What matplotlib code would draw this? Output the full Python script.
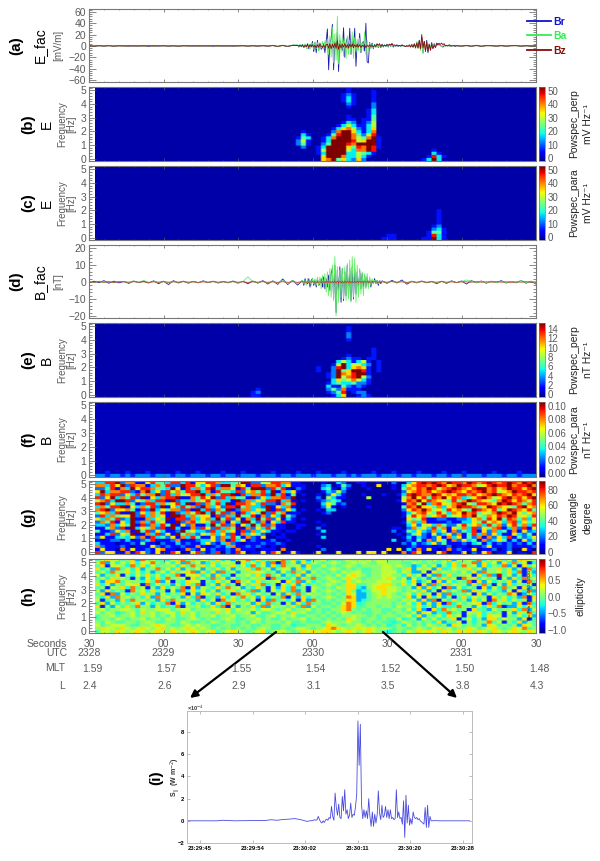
import numpy as np
import matplotlib
matplotlib.use("Agg")
import matplotlib.pyplot as plt
from matplotlib.ticker import MultipleLocator, FuncFormatter

plt.rcParams['font.family'] = ['Liberation Sans', 'DejaVu Sans']

W, H = 600, 861
GRAY = '#5a5a5a'

# ---------- time grids (seconds after 23:28:30) ----------
t_e = np.concatenate([np.arange(0, 84, 2.0), np.arange(84, 148, 0.5), np.arange(148, 181, 2.0)])
t_b = np.concatenate([np.arange(0, 86, 2.0), np.arange(86, 118, 0.5), np.arange(118, 181, 2.0)])

# ---------- panel (a) ----------
e_pre_r = [0.3,-0.4,0.5,-0.3,0.6,-0.5,0.4,0.2,-0.4,0.3,-0.3,0.5,-0.6,0.4,-0.2,0.3,-0.4,0.2,-0.5,0.4,0.3,
           -0.3,0.4,-0.2,0.3,-0.5,0.4,-0.3,0.2,-0.4,0.3,0.5,-0.3,0.4,-0.4,0.6,-0.5,0.8,-0.9,1.0,-1.2,1.4]
e_burst_r = [1,-2,2,-1,3,-3,2,-2,4,-5,3,-2,
             8,-10,6,-12,10,-8,5,-6,-3,4,-12,8,
             30,-42,6,12,38,-42,8,-6,25,-45,10,4,
             -8,32,-20,5,14,-10,31,-15,8,-4,31,-36,
             6,-5,22,-12,5,8,-9,40,-28,-30,6,-4,
             5,-5,3,-2,4,-3,2,-3,3,-2,2,-1,
             3,-2,3,-1,4,-2,1,0,2,-1,1,-1,
             2,1,0,-1,1,0,2,-1,3,-2,4,-3,
             6,-3,10,-7,15,-12,8,-8,10,-12,3,-5,
             6,-4,4,-2,5,3,4,1,-1,-2,0,1,
             1,0,1,-1,0,1,0,-1]
e_post_r = [0.5,-0.4,1.0,-0.8,1.2,-1.0,0.8,0.6,-0.5,0.7,-0.6,0.5,0.9,-0.7,0.4,-0.3,0.3]
e_pre_a = [0.2,-0.3,0.3,-0.2,0.4,-0.3,0.2,-0.2,0.3,-0.3,0.2,-0.2,0.4,-0.3,0.2,0.3,-0.2,0.2,-0.3,0.2,-0.2,
           0.3,-0.3,0.2,-0.2,0.3,-0.3,0.2,-0.2,0.3,-0.2,0.3,-0.3,0.4,-0.3,0.5,-0.4,1.0,-1.5,1.4,-1.0,1.5]
e_burst_a = [2,-1,3,-2,2,-3,4,-4,-5,3,-6,4,
             5,-6,7,-5,6,-9,4,-4,8,-6,9,-4,
             12,-15,18,-20,33,-30,22,-25,52,-32,20,-12,
             15,-18,12,-22,18,-15,10,-14,25,-22,15,-10,
             12,-8,14,-10,6,-8,25,-15,10,-8,5,-4,
             3,-4,2,-3,2,-2,1,-2,2,-1,2,-1,
             1,-1,2,-1,1,0,1,-1,1,0,1,-1,
             1,0,1,-1,0,1,1,-1,2,-3,3,-5,
             8,-4,6,-8,12,-14,6,-6,5,-7,4,-3,
             3,-2,2,-1,2,1,2,0,-1,0,1,0,
             0,1,0,-1,0,1,0,0]
e_post_a = [0.3,-0.3,0.5,-0.4,0.6,-0.5,0.4,0.3,-0.3,0.4,-0.3,0.3,0.4,-0.3,0.2,-0.2,0.2]
e_pre_z = [0.1,-0.2,0.2,-0.1,0.2,-0.2,0.1,-0.1,0.2,-0.2,0.1,-0.1,0.2,-0.1,0.1,0.2,-0.1,0.1,-0.2,0.1,-0.1,
           0.2,-0.2,0.1,-0.1,0.2,-0.1,0.1,-0.1,0.2,-0.1,0.2,-0.2,0.2,-0.2,0.3,-0.2,0.5,-0.6,0.6,-0.5,0.7]
e_burst_z = [1,0,1,-1,1,-2,1,-1,2,-2,1,-1,
             2,-2,1,-3,2,-2,3,-1,-2,1,-3,2,
             3,-4,4,-5,3,-3,5,-4,9,-6,3,-4,
             3,-2,4,-3,2,-4,3,-2,3,-3,2,-2,
             3,-2,2,-3,1,-1,2,-3,1,-1,2,-1,
             1,-2,1,-1,3,1,4,-1,2,0,1,0,
             2,1,3,2,4,1,2,0,1,0,1,0,
             1,0,0,-1,0,-1,1,-2,1,-2,3,-3,
             5,-4,9,-5,20,-3,8,-10,6,-9,3,-8,
             3,-5,1,-3,3,2,4,3,5,2,4,0,
             1,0,2,1,0,0,1,0]
e_post_z = [0.3,-0.2,0.4,-0.3,0.5,-0.3,0.3,0.2,-0.2,0.3,-0.2,0.2,0.3,-0.2,0.2,-0.1,0.1]

# ---------- panel (d) ----------
b_pre_r = [-0.6,0.5,-0.4,0.8,-0.7,0.5,-0.5,0.3,-0.8,0.6,-0.4,0.5,-0.6,0.7,-1.0,0.5,-1.5,0.8,-0.6,0.5,-0.7,0.4,
           -0.5,0.7,-0.4,0.5,-0.6,0.3,-0.5,0.6,-0.7,0.4,-1.0,0.6,-0.7,0.8,-1.2,0.7,-1.4,1.8,-1.5,1.0,-1.8]
b_burst_r = [1,-2,2,-1,-1,2,-3,1,2,-2,1,-3,
             2,-2,-1,2,-3,3,-4,2,-3,4,-5,5,
             8,-10,10,-18,7,-6,9,-12,8,-11,6,-8,
             10,-9,8,-11,9,-10,8,-7,6,-5,7,-4,
             5,-4,4,-3,3,-2,2,-3,1,-1,2,-1,1,-2,1,-1]
b_post_r = [0.7,-0.8,1.0,-0.6,1.2,-1.3,0.5,-0.5,0.6,-0.5,0.4,-1.0,0.5,-0.8,0.7,-0.4,0.6,-1.2,0.8,-0.5,0.6,-0.7,
            0.5,-0.4,0.8,-0.6,0.4,-0.5,0.9,-0.7,0.5,-1.2]
b_pre_a = [0.3,-0.4,0.3,-0.3,0.4,-0.3,0.3,0.2,-0.3,0.3,-0.2,1.0,-0.4,0.3,-0.3,0.3,-0.5,0.3,-0.2,0.3,-0.3,0.2,
           -0.3,0.3,-0.2,0.3,-0.3,0.2,-0.3,0.3,-0.8,0.4,3.0,0.3,-0.4,0.4,-0.6,0.5,-0.7,1.0,-1.0,0.8,-1.0]
b_burst_a = [1,-1,1,-2,2,-1,1,-2,2,-1,2,-2,
             3,-2,3,-4,4,-3,5,-6,6,-8,8,-9,
             10,-11,15,-20,9,-12,7,-9,8,-10,9,-11,
             11,-10,13,-12,15,-9,14,-12,10,-9,8,-7,
             6,-8,5,-4,5,-4,3,-2,2,-1,1,-1,1,-1,1,0]
b_post_a = [0.4,-0.4,0.5,-0.3,0.5,-0.5,0.3,-0.3,0.4,-0.3,0.3,-0.5,0.3,-0.4,0.4,-0.3,0.3,1.2,0.4,-0.3,0.4,-0.4,
            0.3,-0.3,0.4,-0.4,0.3,-0.3,0.9,-0.4,0.3,-0.6]
b_pre_z = [0.1,-0.1,0.2,-0.1,0.1,-0.2,0.1,0.1,-0.1,0.2,-0.1,0.1,-0.2,0.1,-0.1,0.2,-0.1,0.1,-0.1,0.2,-0.1,0.1,
           -0.2,0.1,-0.1,0.2,-0.1,0.1,-0.1,0.2,-0.1,0.1,-0.2,0.1,-0.1,0.2,-0.2,0.1,-0.2,0.2,-0.2,0.2,-0.2]
b_burst_z = [0.2,-0.2,0.3,-0.2,0.2,-0.3,0.2,-0.2,0.3,-0.2,0.2,-0.3,
             0.3,-0.3,0.2,-0.3,0.3,-0.4,0.3,-0.3,0.4,-0.4,0.4,-0.5,
             0.5,-0.5,0.6,-0.6,0.5,-0.5,0.5,-0.5,0.4,-0.5,0.5,-0.5,
             0.5,-0.4,0.5,-0.5,0.4,-0.4,0.5,-0.4,0.4,-0.3,0.4,-0.3,
             0.3,-0.3,0.3,-0.2,0.3,-0.2,0.2,-0.2,0.2,-0.1,0.2,-0.1,0.1,-0.1,0.1,-0.1]
b_post_z = [0.1,-0.1,0.2,-0.1,0.1,-0.2,0.1,-0.1,0.2,-0.1,0.1,-0.1,0.2,-0.1,0.1,-0.2,0.1,0.1,-0.1,0.2,-0.1,0.1,
            -0.1,0.2,-0.1,0.1,-0.2,0.1,-0.1,0.2,-0.1,0.1]

# ---------- spectrograms, digit 0-9 per cell, top row first ----------
pw_e_perp = [
"0000000000100000000000000000000",
"0000000000100001000000000000000",
"0000000001210001000000000000000",
"0000000001310001000000000000000",
"0000000001310001000000000000000",
"0000000000210002000000000000000",
"0000000000100002000000000000000",
"0000000000000013000000000000000",
"0000000000000013000000000000000",
"0000000000100014000000000000000",
"0000000000110114000000000000000",
"0000000001320125000000000000000",
"0000000013531135000000000000000",
"0000000136752136000000000000000",
"0100000279963137000000000000000",
"0310001489974258000000000000000",
"1430013799975479100000000000000",
"2510013999985699100000000000000",
"2410024999879999100000000000000",
"0200139999648798100000000000000",
"0000159999537798000000000001000",
"0000139999335431000000000003100",
"0000069997335310000000000018310",
"0000067946326200000000000139300",
]
pw_e_para = [
"0000000000000000000000000000000",
"0000000000000000000000000000000",
"0000000000000000000000000000000",
"0000000000000000000000000000000",
"0000000000000000000000000000000",
"0000000000000000000000000000000",
"0000000000000000000000000000000",
"0000000000000000000000000000000",
"0000000000000000000000000000000",
"0000000000000000000000000000000",
"0000000000000000000000000000000",
"0000000000000000000000000000000",
"0000000000000000000000000000000",
"0000000000000000000000000000000",
"0000000000000000000000000000100",
"0000000000000000000000000000100",
"0000000000000000000000000000100",
"0000000000000000000000000000100",
"0000000000000000000000000000100",
"0000000000000000000000000001200",
"0000000000000000000000000002310",
"0000000000000000000000000014410",
"0000000000000000001100000018310",
"0000000000000000011100000119310",
]
pw_b_perp = [
"00000000000000000000000000000000000",
"00000000000000000000100000000000000",
"00000000000000000000100000000000000",
"00000000000000000000200000000000000",
"00000000000000000000200000000000000",
"00000000000000000000100000000000000",
"00000000000000000000000000000000000",
"00000000000000000000000000000000000",
"00000000000000000000000001000000000",
"00000000000000000000000001000000000",
"00000000000000000000100001000000000",
"00000000000000000001211011000000000",
"00000000000000000035313510100000000",
"00000000000000000159355320100000000",
"00000000000000100289367610100000000",
"00000000000000100294699810100000000",
"00000000000000001297689910000000000",
"00000000000000001295789520000000000",
"00000000000000000364575310000000000",
"00000000000000001343342210000000000",
"00000000000000003114212100000000000",
"00100000000000002427111000000000000",
"01200000000000001248012200000000000",
"01100000000000000136001210000000000",
]
pw_b_para_low = [
"0010001000100000100010000100010000010000100010000100000100010000100001000100000100001000",
"2212212122212221221222122122122212221221222122212212122212221221222122122122212221221222",
]
angle_rows = [
"33889277116"+"84438838166"+"88733449922"+"55887711000"+"0100320011001002003689"+"8987988798789878987989",
"77386928771"+"37482298853"+"68299476188"+"27783611100"+"0230142001006001036788"+"7898679887568988978897",
"22481739688"+"74439618374"+"89377618499"+"92848102100"+"0341031000100001047687"+"9857898768997867988689",
"69377882179"+"36285748893"+"71844382674"+"83917361000"+"0132520000000000026787"+"8678987687897856798878",
"38788263847"+"79283756889"+"37488918377"+"82938140100"+"1026310001000100138987"+"7986768878678987687896",
"82693748291"+"63788911748"+"69283744192"+"63778290000"+"2053110000500000057968"+"4879687346897568978689",
"57839982647"+"38819233746"+"84733192736"+"48893710100"+"1234300000000000168796"+"8765484798765479868758",
"89263374128"+"83746839182"+"74839188763"+"82217480000"+"0364120000000000017859"+"3786578954887698987478",
"37488916374"+"82916384729"+"73628894733"+"29163710000"+"0251010000100000048796"+"6473679887469876548967",
"78926674182"+"93647728193"+"82749127736"+"49182630100"+"1033000000000000026879"+"7564867549876846987684",
"46738119263"+"74819237589"+"39482718364"+"92847111000"+"0120000000000000013578"+"6485376978465798796467",
"28374669283"+"74619983746"+"61827394481"+"72639420000"+"0000000000000000015867"+"4678456879547687985648",
"63748239117"+"36491882736"+"73948261739"+"48261310100"+"0000000000000000006458"+"1122112236748694874736",
"27481639273"+"84611927846"+"48271639942"+"71638110000"+"1000000000000000014737"+"1111211336485763783645",
"33273649182"+"73849162711"+"39482716394"+"82711001100"+"0100000000000000003625"+"6374225846738472684738",
"11472819364"+"72819311728"+"62837491726"+"38411001000"+"2000000000000001102746"+"3847164738264781372816",
"41126371948"+"26311294633"+"28374618273"+"63110110000"+"0300000000000002014363"+"2736172438162734171623",
"11382649117"+"38261947326"+"47362817364"+"20101000000"+"1000000000000000102462"+"1523627148372631163241",
"26113436271"+"83426173841"+"16273841721"+"60011000000"+"0300000000000000013132"+"1261736142717263814236",
"1112213112381112711123"+"3627183612111200100000"+"0000000000000003002141"+"7264172634172364131624",
"3111011214110211312113"+"6213721011121121000000"+"0000000000000000021312"+"3624111213413121212131",
"7211121011162121121171"+"1121371121210101000000"+"1000000000000000001211"+"1111201101126111211112",
"1611071611216711017216"+"1211217111011107000000"+"0200000000000060603171"+"6101712116011201200610",
"8266117186216118601682"+"1280218601161860161000"+"6000600060660600071860"+"1068011602168011601108",
]
ellip_rows = [
"4676645728564436684756"+"6473526683745568473625"+"5645456565656655555454"+"5645726564836574627765",
"6826364736685463728462"+"3746651746372818462736"+"5456545656546655544654"+"5446374558274627384613",
"4716653847364556374857"+"4635574638462738556274"+"4645456545555665654236"+"4625374856273548261746",
"7352846372558463725462"+"5473625573846256627364"+"5456545454455665457265"+"6273465574625574625183",
"4638557463524637467827"+"3728462557664526384726"+"4545465664455666465226"+"1746554637285564738152",
"6254715364746354816673"+"6273415564738462537264"+"5454646765455665537461"+"6283745561738294625173",
"4637564152637485561746"+"3847263546571845362748"+"4565467654555676462635"+"2637461857364516273846",
"5277846553748261537661"+"5374618563745561748263"+"5456547565556665563724"+"6172635481726354726184",
"7362546671836452637481"+"4627351647583516472635"+"4565457744566775474617"+"2837465527384162735461",
"4516573846152736481726"+"5374856253741627384516"+"5454657732567766545272"+"7361826354172638461725",
"6273541856374516283746"+"3625574638251647382516"+"4565457523466766545647"+"2517364827563542617382",
"4718263547552635471627"+"6473518573645162738465"+"5454547622456765456374"+"6172835461726354871263",
"5372856453728564527381"+"4527364856273548162735"+"4565458722456565547261"+"7362514736551746352817",
"6145273856452738564527"+"3618574536172845361728"+"5454557723455555465627"+"2816374527361857364516",
"4726354572635481726354"+"6273845562738451627384"+"5445468734555554546372"+"6271836456718364527183",
"7152647485526344815563"+"4738162547382655473826"+"4554578744554554655463"+"5263348552637481226374",
"5645566546556664566455"+"5665746556466545645564"+"5445578545455445546372"+"1738564517442645573826",
"6465345647564566475645"+"5475645562644566475644"+"5454565454455454554627"+"6243845165735451627584",
"4556455645564546455645"+"5645564556445645564455"+"4545455655454555456372"+"5463756154637661546372",
"4554654556455465445654"+"5445654455645446455645"+"5454547654554544634526"+"4635571463527746552714",
"5465445545654455465445"+"4654554546545554644544"+"4565556554545443465454"+"5372446153558461537254",
"6456665445567654456565"+"5445544554455445534455"+"5476545565454534536454"+"6545276454527645452764",
"5766576567656756567656"+"5454545454565445456654"+"5678765676765654554565"+"4675645576456754576845",
"4665765676567657656765"+"6745676545674566545767"+"6776567656765434546576"+"7657657675765765676576",
]
ellip_levels = [-1.0, -0.75, -0.42, -0.25, -0.1, 0.05, 0.2, 0.4, 0.65, 1.0]

# ---------- panel (i) ----------
s_pre = [0,0,0,0,0,0,0.05,0.02,0,0.01,0.02,0.03,0.03,0.02,0.1,0.05,0.12,0.15,0.2,0.1,-0.05]
s_active = [0.05,0.1,0.05,0.1,0.4,0.1,-0.1,-0.2,0.0,-0.15,0.05,0.15,0.05,0.3,0.2,1.3,0.4,0.05,2.5,1.2,
            0.5,1.5,0.3,0.2,2.2,0.9,2.8,0.6,1.0,0.2,0.5,1.6,0.3,0.6,0.5,1.3,2.4,9.0,5.0,8.7,
            1.5,0.2,1.0,0.3,0.9,0.2,2.0,0.4,-0.5,0.8,-0.5,0.6,-0.2,0.5,2.7,0.7,0.1,1.4,0.3,0.5,
            1.3,0.3,1.0,0.2,1.0,0.2,0.3,0.1,0.2,2.8,0.3,0.8,0.2,0.3,-0.3,1.8,-1.5,2.3,-0.2,1.4,
            -0.4,0.2,-0.3,0.8,0.3,0.2,0.3,0.1,0.2,0.0,-0.1,-0.2,-0.3,1.2,-0.6,1.4,-0.6,0.4,0.0,0.0]
s_post = [0.02,0,0,0.01,0,0,0]
t_s = np.concatenate([-2.2 + np.arange(len(s_pre)) * 1.0,
                      18.9 + np.arange(len(s_active)) * 0.2,
                      38.9 + np.arange(len(s_post)) * 1.0])
s_tick_labels = ['23:29:45', '23:29:54', '23:30:02', '23:30:11', '23:30:20', '23:30:28']
s_ticks = [0, 8.75, 17.5, 26.25, 35.0, 43.75]

# ---------- ephemeris table ----------
sec_labels = ['30', '00', '30', '00', '30', '00', '30']
utc_labels = ['2328', '2329', '', '2330', '', '2331', '']
mlt_labels = ['1.59', '1.57', '1.55', '1.54', '1.52', '1.50', '1.48']
l_labels = ['2.4', '2.6', '2.9', '3.1', '3.5', '3.8', '4.3']
table_ticks = [0, 30, 60, 90, 120, 150, 180]

fig = plt.figure(figsize=(W / 100, H / 100), dpi=100, facecolor='white')


def rect(x0, y0, x1, y1):
    return [x0 / W, 1 - y1 / H, (x1 - x0) / W, (y1 - y0) / H]


def fx(px):
    return px / W


def fy(py):
    return 1 - py / H


PX0, PX1 = 89, 536


def style(ax, ymaj, ymin_step, show_right):
    ax.set_xlim(0, 180)
    ax.xaxis.set_major_locator(MultipleLocator(30))
    ax.xaxis.set_minor_locator(MultipleLocator(6))
    ax.yaxis.set_major_locator(MultipleLocator(ymaj))
    ax.yaxis.set_minor_locator(MultipleLocator(ymin_step))
    ax.tick_params(axis='y', which='major', direction='in', length=5, width=0.5, color=GRAY,
                   labelsize=7.5, labelcolor=GRAY, pad=2, right=show_right)
    ax.tick_params(axis='y', which='minor', direction='in', length=2.5, width=0.5, color=GRAY, right=show_right)
    ax.tick_params(axis='x', which='major', direction='in', length=2, width=0.5, color=GRAY,
                   labelbottom=False, top=True)
    ax.tick_params(axis='x', which='minor', direction='in', length=1, width=0.4, color=GRAY, top=True)
    for s in ax.spines.values():
        s.set_color('#777777')
        s.set_linewidth(0.8)


def line_panel(y0, y1, ylim, ymaj, ymin_step, t, series, name, unit, tag, tag_x):
    ax = fig.add_axes(rect(PX0, y0, PX1, y1))
    for vals, c, lw in series:
        ax.plot(t, vals, color=c, lw=lw)
    ax.set_ylim(*ylim)
    style(ax, ymaj, ymin_step, True)
    ax.yaxis.set_major_formatter(FuncFormatter(lambda v, p: f'{v:.0f}'.replace('-', '\u2212')))
    mid = (y0 + y1) / 2
    fig.text(fx(tag_x), fy(mid), tag, rotation=90, ha='center', va='center', fontsize=11, fontweight='bold')
    fig.text(fx(40), fy(mid), name, rotation=90, ha='center', va='center', fontsize=10)
    fig.text(fx(58), fy(mid), unit, rotation=90, ha='center', va='center', fontsize=7, color=GRAY)
    return ax


def grid(rows, offset=0):
    arr = np.zeros((24, 88))
    for r, s in enumerate(rows):
        s = s[:88 - offset]
        arr[r, offset:offset + len(s)] = [int(c) for c in s]
    return arr


def spec_panel(y0, y1, data, vmin, vmax, ticks, fmt, name, tag, cb1, cb2):
    ax = fig.add_axes(rect(PX0, y0, PX1, y1))
    ylim = (-0.18, 5.25)
    # each cell is drawn as a block with softened edges
    blocks = np.repeat(np.repeat(data, 3, axis=0), 3, axis=1)
    im = ax.imshow(blocks, cmap='jet', vmin=vmin, vmax=vmax, aspect='auto', origin='upper',
                   extent=[2.4, 180, ylim[0], ylim[1]], interpolation='bilinear')
    ax.set_ylim(*ylim)
    style(ax, 1, 0.2, False)
    mid = (y0 + y1) / 2
    fig.text(fx(28), fy(mid), tag, rotation=90, ha='center', va='center', fontsize=11, fontweight='bold')
    if name:
        fig.text(fx(47), fy(mid), name, rotation=90, ha='center', va='center', fontsize=10)
    fig.text(fx(62), fy(mid), 'Frequency', rotation=90, ha='center', va='center', fontsize=7, color=GRAY)
    fig.text(fx(71), fy(mid), '[Hz]', rotation=90, ha='center', va='center', fontsize=7, color=GRAY)
    cax = fig.add_axes(rect(PX1 + 3, y0, PX1 + 9, y1))
    cb = fig.colorbar(im, cax=cax)
    cb.set_ticks(ticks)
    cb.set_ticklabels([fmt(v) for v in ticks])
    cb.ax.tick_params(length=0, labelsize=7, labelcolor=GRAY, pad=2)
    cb.outline.set_edgecolor('#777777')
    cb.outline.set_linewidth(0.5)
    if cb2:
        fig.text(fx(574), fy(mid), cb1, rotation=90, ha='center', va='center', fontsize=7.5, color='#222222')
        fig.text(fx(588), fy(mid), cb2, rotation=90, ha='center', va='center', fontsize=7.5, color='#222222')
    else:
        fig.text(fx(580), fy(mid), cb1, rotation=90, ha='center', va='center', fontsize=7.5, color='#222222')
    return ax


BLUE, GREEN, MAROON = '#1a1aa8', '#66ee66', '#8b0a0a'

ea = np.array(e_pre_r + e_burst_r + e_post_r)
eb = np.array(e_pre_a + e_burst_a + e_post_a)
ec = np.array(e_pre_z + e_burst_z + e_post_z)
ax_a = line_panel(9, 82, (-63.5, 65), 20, 4, t_e,
                  [(ea, BLUE, 0.6), (eb, GREEN, 0.6), (ec, MAROON, 0.6)],
                  'E_fac', '[mV/m]', '(a)', 16)

ba = np.array(b_pre_r + b_burst_r + b_post_r)
bb = np.array(b_pre_a + b_burst_a + b_post_a)
bc = np.array(b_pre_z + b_burst_z + b_post_z)
ax_d = line_panel(245, 318, (-21.2, 21.8), 10, 2, t_b,
                  [(ba, BLUE, 0.6), (bb, GREEN, 0.6), (bc, '#c04020', 0.6)],
                  'B_fac', '[nT]', '(d)', 16)

# legend
for py, lab, c in [(21, 'Br', '#1010d0'), (35, 'Ba', '#30f050'), (50, 'Bz', MAROON)]:
    fig.add_artist(plt.Line2D([fx(527), fx(551)], [fy(py), fy(py)], color=c, lw=1.3))
    fig.text(fx(553), fy(py + 1), lab, color=c, fontsize=7.5, fontweight='bold', va='center', ha='left')

spec_panel(87, 161, grid(pw_e_perp, 40) / 9 * 53, -2, 53, [0, 10, 20, 30, 40, 50], lambda v: f'{v}',
           'E', '(b)', 'Powspec_perp', 'mV Hz\u207b\u00b9')
spec_panel(166, 240, grid(pw_e_para, 40) / 9 * 53, -2, 53, [0, 10, 20, 30, 40, 50], lambda v: f'{v}',
           'E', '(c)', 'Powspec_para', 'mV Hz\u207b\u00b9')
spec_panel(323, 397, grid(pw_b_perp, 30) / 9 * 15.3, -0.6, 15.3, [0, 2, 4, 6, 8, 10, 12, 14], lambda v: f'{v}',
           'B', '(e)', 'Powspec_perp', 'nT Hz\u207b\u00b9')
f_data = np.zeros((24, 88))
f_data[22:] = [[int(c) for c in s] for s in pw_b_para_low]
spec_panel(402, 477, f_data / 9 * 0.106, -0.006, 0.106, [0, 0.02, 0.04, 0.06, 0.08, 0.10], lambda v: f'{v:.2f}',
           'B', '(f)', 'Powspec_para', 'nT Hz\u207b\u00b9')
spec_panel(481, 554, grid(angle_rows) * 10, -2.6, 91.6, [0, 20, 40, 60, 80], lambda v: f'{v}',
           '', '(g)', 'waveangle', 'degree')
ax_h = spec_panel(559, 633, np.take(ellip_levels, grid(ellip_rows).astype(int)), -1.09, 1.12,
                  [-1.0, -0.5, 0.0, 0.5, 1.0],
                  lambda v: f'{v:.1f}'.replace('-', '\u2212'), '', '(h)', 'ellipticity', '')
fig.text(fx(530), fy(596), 'Thu Feb 27 11:08:31 2020', rotation=90, ha='center', va='center', fontsize=3.2, color='#111111')

# ephemeris table
for i, tv in enumerate(table_ticks):
    xp = PX0 + tv / 180 * (PX1 - PX0)
    fig.text(fx(xp), fy(644), sec_labels[i], ha='center', va='center', fontsize=7.5, color=GRAY)
    if utc_labels[i]:
        fig.text(fx(xp), fy(653), utc_labels[i], ha='center', va='center', fontsize=7.5, color=GRAY)
    fig.text(fx(xp + 3), fy(669), mlt_labels[i], ha='center', va='center', fontsize=7.5, color=GRAY)
    fig.text(fx(xp + 1), fy(686), l_labels[i], ha='center', va='center', fontsize=7.5, color=GRAY)
fig.text(fx(67), fy(644), 'Seconds', ha='right', va='center', fontsize=7.5, color=GRAY)
fig.text(fx(67), fy(653), 'UTC', ha='right', va='center', fontsize=7.5, color=GRAY)
fig.text(fx(65), fy(668), 'MLT', ha='right', va='center', fontsize=7.5, color=GRAY)
fig.text(fx(65), fy(686), 'L', ha='right', va='center', fontsize=7.5, color=GRAY)

# arrows
for (xa, ya), (xb, yb) in [((276, 632), (190, 698)), ((383, 632), (457, 698))]:
    fig.add_artist(matplotlib.patches.FancyArrowPatch((fx(xa), fy(ya)), (fx(xb), fy(yb)),
                                                      transform=fig.transFigure, arrowstyle='-|>',
                                                      mutation_scale=11, lw=1.6, color='black',
                                                      shrinkA=0, shrinkB=0))

# panel (i)
ax_i = fig.add_axes(rect(187, 711, 472, 843))
ax_i.plot(t_s, np.array(s_pre + s_active + s_post), color='#4a4ae0', lw=0.6)
ax_i.set_xlim(-2.17, 45.3)
ax_i.set_ylim(-2, 9.9)
ax_i.set_xticks(s_ticks)
ax_i.set_xticklabels(s_tick_labels)
ax_i.set_yticks([-2, 0, 2, 4, 6, 8])
ax_i.tick_params(axis='both', direction='in', length=2, width=0.4, color='#888888', labelsize=4.2, pad=2,
                 top=True, right=True)
for lab in ax_i.get_xticklabels() + ax_i.get_yticklabels():
    lab.set_fontweight('bold')
for s in ax_i.spines.values():
    s.set_color('#bbbbbb')
    s.set_linewidth(0.7)
fig.text(fx(187), fy(708), '\u00d710$^{-4}$', ha='left', va='center', fontsize=4, fontweight='bold', color='#333333')
fig.text(fx(175), fy(777), 'S$_{\\parallel}$ (W m$^{-2}$)', rotation=90, ha='center', va='center', fontsize=5, fontweight='bold', color='#333333')
fig.text(fx(156), fy(778), '(i)', rotation=90, ha='center', va='center', fontsize=11, fontweight='bold')

fig.savefig('out.png', dpi=100)
